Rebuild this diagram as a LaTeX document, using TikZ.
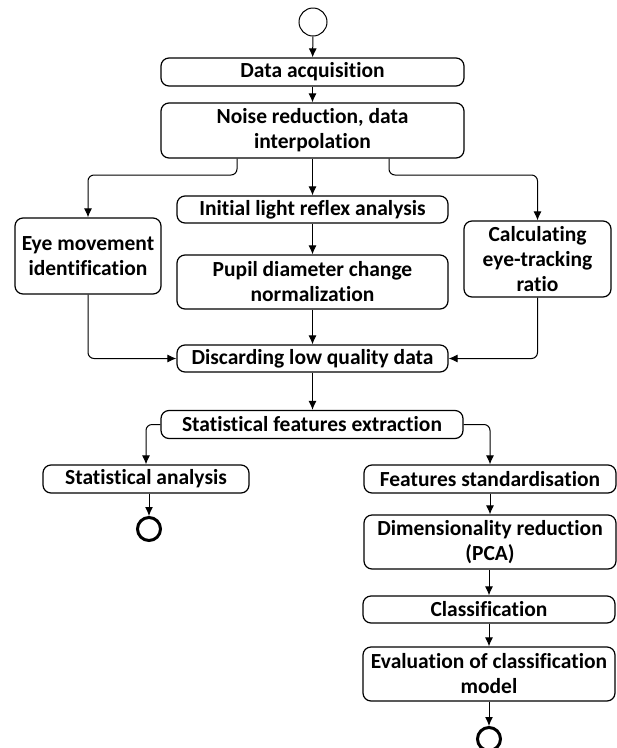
\documentclass[tikz,border=0pt]{standalone}
\usepackage{fontspec}
\setmainfont{Carlito}[Ligatures={NoCommon,NoContextual}, Contextuals=NoAlternate]
\usetikzlibrary{arrows.meta}

\begin{document}
\begin{tikzpicture}[x=1pt, y=-1pt,
    act/.style={draw, rounded corners=8pt, line width=1.2pt, align=center, inner sep=0pt,
        font=\fontsize{21.5}{25}\selectfont\bfseries},
    flow/.style={line width=1pt, -{Latex[length=9pt, width=8pt]}},
    endpt/.style={draw, circle, line width=3pt, minimum size=23pt, inner sep=0pt}]

\useasboundingbox (0,0) rectangle (617,748);

% Start node
\node[draw, circle, line width=1pt, minimum size=28pt, inner sep=0pt] (start) at (313,22) {};

% Preprocessing
\node[act, minimum width=303pt, minimum height=28pt] (acq) at (312.5,72) {Data acquisition};
\node[act, minimum width=303pt, minimum height=55pt] (noise) at (312.5,130.5) {Noise reduction, data\\interpolation};

% Three branches
\node[act, minimum width=146pt, minimum height=76pt] (eye) at (88,256) {Eye movement\\identification};
\node[act, minimum width=271pt, minimum height=27pt] (light) at (312.5,209.5) {Initial light reflex analysis};
\node[act, minimum width=271pt, minimum height=54pt] (pupil) at (312.5,282) {Pupil diameter change\\normalization};
\node[act, minimum width=147pt, minimum height=76pt] (ratio) at (537.5,259) {Calculating\\eye-tracking\\ratio};

\node[act, minimum width=271pt, minimum height=27pt] (discard) at (312.5,358.5) {Discarding low quality data};
\node[act, minimum width=302pt, minimum height=28pt] (feat) at (312,424.5) {Statistical features extraction};

% Left: analysis
\node[act, minimum width=206pt, minimum height=28pt] (stats) at (146,479) {Statistical analysis};
\node[endpt] (endL) at (149,529) {};

% Right: classification
\node[act, minimum width=252pt, minimum height=28pt] (std) at (490,479) {Features standardisation};
\node[act, minimum width=252pt, minimum height=54pt] (pca) at (490,542) {Dimensionality reduction\\(PCA)};
\node[act, minimum width=252pt, minimum height=27pt] (cls) at (489,609.5) {Classification};
\node[act, minimum width=252pt, minimum height=54pt] (eval) at (489,674) {Evaluation of classification\\model};
\node[endpt] (endR) at (489,739) {};

% Connectors
\coordinate (forkL) at (237,175);
\coordinate (forkR) at (389,175);
\draw[flow] (start) -- (acq);
\draw[flow] (acq) -- (noise);
\draw[flow] (noise) -- (light);
\draw[flow, rounded corners=6pt] (noise.south -| forkL) -- (forkL) -| (eye.north);
\draw[flow, rounded corners=6pt] (noise.south -| forkR) -- (forkR) -| (ratio.north);
\draw[flow] (light) -- (pupil);
\draw[flow] (pupil) -- (discard);
\draw[flow, rounded corners=6pt] (eye.south) |- (discard.west);
\draw[flow, rounded corners=6pt] (ratio.south) |- (discard.east);
\draw[flow] (discard.south) -- (discard.south |- feat.north);
\draw[flow, rounded corners=6pt] (feat.west) -| (stats.north);
\draw[flow, rounded corners=6pt] (feat.east) -| (std.north);
\draw[flow] (stats.south -| endL) -- (endL);
\draw[flow] (std) -- (pca);
\draw[flow] (pca.south -| cls) -- (cls);
\draw[flow] (cls) -- (eval);
\draw[flow] (eval) -- (endR);

\end{tikzpicture}
\end{document}
